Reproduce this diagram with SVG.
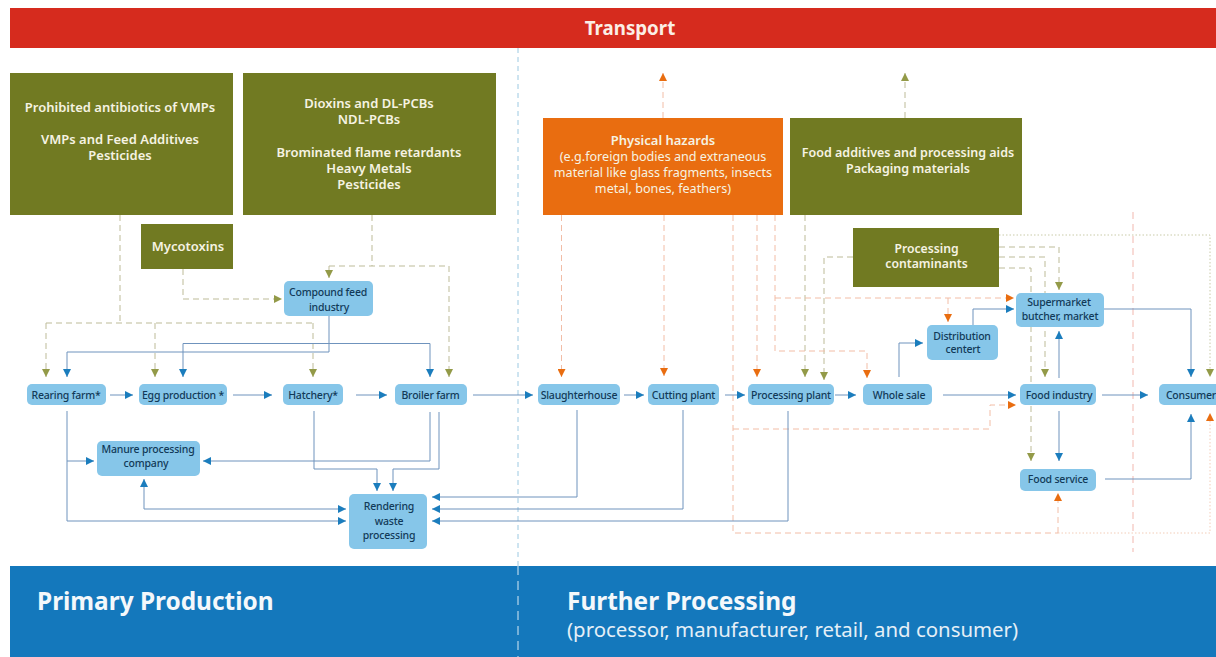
<svg xmlns="http://www.w3.org/2000/svg" width="1216" height="657" viewBox="0 0 1216 657">
<style>
text{font-family:"Noto Sans","Open Sans","Liberation Sans",sans-serif;text-anchor:middle}
.n rect{fill:#86c6e9}
.n text{font-size:10.5px;letter-spacing:-.2px;fill:#123a58;font-weight:500}
.h text{font-size:13px;fill:#f6f3e2;font-weight:600}
.h text.r{font-size:12.6px;font-weight:400}
.h text.s{font-size:12.500px}
.h text.c{font-size:12.200px}
.ol{fill:#717a22}.or{fill:#e96d10}
.l{fill:none;stroke-width:1}
.b{stroke:#6f93bd;marker-end:url(#ab)}
.bn{stroke:#6f93bd}
.od{stroke:#bdbb98;stroke-dasharray:6 4}
.odm{stroke:#bdbb98;stroke-dasharray:6 4;marker-end:url(#ao)}
.rd{stroke:#f2bda6;stroke-dasharray:6 4}
.rdm{stroke:#f2bda6;stroke-dasharray:6 4;marker-end:url(#ar)}
</style>
<defs>
<marker id="ab" markerUnits="userSpaceOnUse" viewBox="0 0 8 8" refX="8" refY="4" markerWidth="8" markerHeight="8" orient="auto"><path d="M0 0L8 4L0 8Z" fill="#1b7dbd"/></marker>
<marker id="ao" markerUnits="userSpaceOnUse" viewBox="0 0 8 8" refX="8" refY="4" markerWidth="8" markerHeight="8" orient="auto"><path d="M0 0L8 4L0 8Z" fill="#939a48"/></marker>
<marker id="ar" markerUnits="userSpaceOnUse" viewBox="0 0 8 8" refX="8" refY="4" markerWidth="8" markerHeight="8" orient="auto"><path d="M0 0L8 4L0 8Z" fill="#e96d10"/></marker>
</defs>
<rect width="1216" height="657" fill="#fff"/>
<g id="band-transport"><rect x="10" y="8" width="1206" height="40" fill="#d62b1e"/><text x="630" y="34.500" font-size="18.700" font-weight="700" fill="#fbeee6">Transport</text></g>
<g id="band-stages"><rect x="10" y="566" width="1206" height="91" fill="#1478bc"/>
<text x="37" y="610" font-size="24.400" font-weight="700" fill="#f4f8fb" style="text-anchor:start">Primary Production</text>
<text x="567" y="610" font-size="24.400" font-weight="700" fill="#f4f8fb" style="text-anchor:start">Further Processing</text>
<text x="567" y="637" font-size="20.400" fill="#e4eff7" style="text-anchor:start">(processor, manufacturer, retail, and consumer)</text></g>
<g id="connectors">
<path class="l" d="M518 48V566" stroke="#9cc9e2" stroke-dasharray="5 4"/>
<path class="l" d="M518 566V657" stroke="#d8eaf5" stroke-dasharray="9 6"/>
<path class="l" d="M1133 212V552" stroke="#f1b7ae" stroke-dasharray="7 5"/>
<path class="l od" d="M120 215V323M46 323H314"/>
<path class="l odm" d="M46 323V377"/><path class="l odm" d="M155 323V377"/><path class="l odm" d="M313 323V377"/>
<path class="l od" d="M372 215V266M329 266H449"/>
<path class="l odm" d="M329 266V278"/><path class="l odm" d="M449 266V377"/>
<path class="l odm" d="M183 269V299H282"/>
<path class="l odm" d="M905 118V73"/><path class="l odm" d="M805 215V377"/>
<path class="l odm" d="M853 257H824V380"/>
<path class="l odm" d="M999 247H1059V290"/><path class="l odm" d="M999 257H1045V377"/><path class="l odm" d="M999 268H1031V461"/>
<path class="l" d="M999 235H1210V370" stroke="#c9cba8" stroke-dasharray="1.500 2"/>
<path class="l" d="M1210 370V377" stroke="#c9cba8" stroke-dasharray="1.500 2" marker-end="url(#ao)"/>
<path class="l rdm" d="M663 118V73"/><path class="l rdm" d="M561.500 215V377"/><path class="l rdm" d="M664 215V376"/><path class="l rdm" d="M757 215V377"/>
<path class="l rdm" d="M775 215V351H867V378"/><path class="l rdm" d="M775 298H1014"/><path class="l rdm" d="M948 298V322"/>
<path class="l rd" d="M733 215V533H1058"/>
<path class="l rdm" d="M733 429H990V405H1016"/>
<path class="l rdm" d="M1058 533V493"/>
<path class="l" d="M1058 533H1210V420" stroke="#f3cdb8" stroke-dasharray="1.500 2"/>
<path class="l" d="M1210 420V413" stroke="#f3cdb8" stroke-dasharray="1.500 2" marker-end="url(#ar)"/>
<path class="l b" d="M329 316V352H67V377"/><path class="l bn" d="M183 343.500H430"/>
<path class="l b" d="M183 343.500V377"/><path class="l b" d="M430 343.500V377"/>
<path class="l b" d="M110 395H133"/><path class="l b" d="M233 395H272"/><path class="l b" d="M356 395H387"/><path class="l b" d="M473 395H533"/>
<path class="l b" d="M624 395H644"/><path class="l b" d="M725 395H745"/><path class="l b" d="M835 395H856"/><path class="l b" d="M943 395H1016"/><path class="l b" d="M1102 395H1148"/>
<path class="l b" d="M67 411V521H346"/><path class="l b" d="M67 461H94"/>
<path class="l b" d="M314 411V469H377V491"/>
<path class="l b" d="M430 412V461H203"/>
<path class="l b" d="M439 412V469H393V491"/>
<path class="l b" d="M144 509V479"/><path class="l b" d="M144 509H346"/>
<path class="l b" d="M577 410V497H432"/><path class="l b" d="M683 410V509H432"/><path class="l b" d="M788 411V521H432"/>
<path class="l b" d="M899 377V343H923"/><path class="l b" d="M973 325V309H1014"/>
<path class="l b" d="M1104 309H1191V377"/>
<path class="l b" d="M1059 378V331"/><path class="l b" d="M1059 411V461"/>
<path class="l b" d="M1105 479H1191V414"/>
</g>
<g id="hazard-antibiotics" class="h"><rect class="ol" x="10" y="73" width="223" height="142"/><text x="120" y="112">Prohibited antibiotics of VMPs</text><text x="120" y="144">VMPs and Feed Additives</text><text x="120" y="160">Pesticides</text></g>
<g id="hazard-dioxins" class="h"><rect class="ol" x="243" y="73" width="253" height="142"/><text x="369" y="108">Dioxins and DL-PCBs</text><text x="369" y="124">NDL-PCBs</text><text x="369" y="157">Brominated flame retardants</text><text x="369" y="173">Heavy Metals</text><text x="369" y="189">Pesticides</text></g>
<g id="hazard-mycotoxins" class="h"><rect class="ol" x="141" y="224" width="92" height="45"/><text x="188" y="251">Mycotoxins</text></g>
<g id="hazard-physical" class="h"><rect class="or" x="543" y="118" width="240" height="97"/><text x="663" y="145">Physical hazards</text><text class="r" x="663" y="161">(e.g.foreign bodies and extraneous</text><text class="r" x="663" y="177">material like glass fragments, insects</text><text class="r" x="663" y="193">metal, bones, feathers)</text></g>
<g id="hazard-additives" class="h"><rect class="ol" x="790" y="118" width="232" height="97"/><text class="s" x="908" y="157">Food additives and processing aids</text><text class="s" x="908" y="173">Packaging materials</text></g>
<g id="hazard-contaminants" class="h"><rect class="ol" x="853" y="228" width="146" height="59"/><text class="c" x="926.500" y="252.500">Processing</text><text class="c" x="926.500" y="267.500">contaminants</text></g>
<g id="node-compound" class="n"><rect x="284" y="281" width="89" height="35" rx="5"/><text x="328" y="296">Compound feed</text><text x="329" y="311">industry</text></g>
<g id="node-rearing" class="n"><rect x="27" y="384" width="79" height="21" rx="5"/><text x="66" y="398.500">Rearing farm*</text></g>
<g id="node-egg" class="n"><rect x="139" y="384" width="88" height="21" rx="5"/><text x="183" y="398.500">Egg production *</text></g>
<g id="node-hatchery" class="n"><rect x="283" y="384" width="60" height="21" rx="5"/><text x="313" y="398.500">Hatchery*</text></g>
<g id="node-broiler" class="n"><rect x="395" y="384" width="72" height="21" rx="5"/><text x="430.500" y="398.500">Broiler farm</text></g>
<g id="node-manure" class="n"><rect x="97" y="441" width="103" height="35" rx="5"/><text x="148" y="453">Manure processing</text><text x="146" y="467">company</text></g>
<g id="node-rendering" class="n"><rect x="349" y="494" width="78" height="55" rx="5"/><text x="389" y="510">Rendering</text><text x="389" y="525">waste</text><text x="389" y="539">processing</text></g>
<g id="node-slaughter" class="n"><rect x="538" y="384" width="82" height="21" rx="5"/><text x="579" y="398.500">Slaughterhouse</text></g>
<g id="node-cutting" class="n"><rect x="648" y="384" width="71" height="21" rx="5"/><text x="683.500" y="398.500">Cutting plant</text></g>
<g id="node-processing" class="n"><rect x="748" y="384" width="86" height="21" rx="5"/><text x="791" y="398.500">Processing plant</text></g>
<g id="node-wholesale" class="n"><rect x="863" y="384" width="69" height="21" rx="5"/><text x="899" y="398.500">Whole sale</text></g>
<g id="node-distribution" class="n"><rect x="927" y="325" width="71" height="35" rx="5"/><text x="962" y="340">Distribution</text><text x="963" y="353">centert</text></g>
<g id="node-supermarket" class="n"><rect x="1016" y="293" width="88" height="34" rx="5"/><text x="1059" y="306">Supermarket</text><text x="1060" y="320">butcher, market</text></g>
<g id="node-foodindustry" class="n"><rect x="1020" y="384" width="76" height="21" rx="5"/><text x="1059" y="398.500">Food industry</text></g>
<g id="node-foodservice" class="n"><rect x="1020" y="469" width="76" height="22" rx="5"/><text x="1058" y="483">Food service</text></g>
<g id="node-consumer" class="n"><rect x="1159" y="384" width="62" height="21" rx="5"/><text x="1191" y="398.500">Consumer</text></g>
</svg>
